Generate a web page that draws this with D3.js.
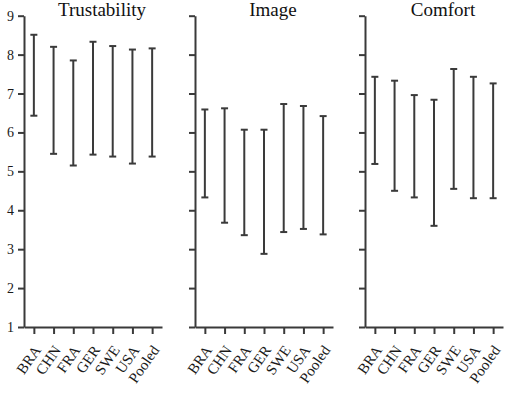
<!DOCTYPE html>
<html>
<head>
<meta charset="utf-8">
<script src="https://cdn.jsdelivr.net/npm/d3@7"></script>
<style>
    body { margin: 0; background: #fff; }
    .axis path, .axis line { stroke: #3a3a3a; stroke-width: 2px; }
    .axis text { font-family: "Liberation Serif", "Times New Roman", serif; font-size: 14px; fill: #1a1a1a; }
    .x-axis text { font-size: 15px; }
    .panel-title { font-family: "Liberation Serif", "Times New Roman", serif; font-size: 19px; fill: #111; }
</style>
</head>
<body>
<div id="chart"></div>
<script>
    // countries along the x axis
    let countries = ["BRA", "CHN", "FRA", "GER", "SWE", "USA", "Pooled"];
    let panels = ["Trustability", "Image", "Comfort"];
    let yTicks = [1, 2, 3, 4, 5, 6, 7, 8, 9];

    // upper and lower ends of each interval, one array per panel
    let trustLow = [6.43, 5.45, 5.15, 5.43, 5.38, 5.20, 5.38];
    let trustHigh = [8.51, 8.20, 7.85, 8.33, 8.22, 8.13, 8.16];
    let imageLow = [4.33, 3.68, 3.36, 2.88, 3.44, 3.52, 3.38];
    let imageHigh = [6.59, 6.62, 6.07, 6.07, 6.73, 6.68, 6.42];
    let comfortLow = [5.19, 4.50, 4.33, 3.60, 4.55, 4.31, 4.31];
    let comfortHigh = [7.43, 7.33, 6.96, 6.84, 7.63, 7.43, 7.26];

    let lows = [trustLow, imageLow, comfortLow];
    let highs = [trustHigh, imageHigh, comfortHigh];

    let width = 505, height = 393;
    let panelLeft = [24, 195, 365];
    let panelWidth = 138;
    let plotTop = 15.7, plotBottom = 327;
    let capHalf = 3.5;
    let lineColor = "#3a3a3a";

    let svg = d3.select("#chart").append("svg")
        .attr("width", width)
        .attr("height", height);

    let y = d3.scaleLinear()
        .domain([1, 9])
        .range([plotBottom, plotTop]);

    let x = d3.scalePoint()
        .domain(countries)
        .range([0, panelWidth])
        .padding(0.5);

    panels.forEach((name, p) => {
        let g = svg.append("g")
            .attr("transform", "translate(" + panelLeft[p] + ",0)");

        // y axis, labels only on the first panel
        let yAxis = d3.axisLeft(y)
            .tickValues(yTicks)
            .tickSize(6)
            .tickSizeOuter(0)
            .tickPadding(4)
            .tickFormat(p === 0 ? d3.format("d") : "");
        g.append("g")
            .attr("class", "y-axis axis")
            .call(yAxis);

        // x axis
        let xAxis = d3.axisBottom(x)
            .tickSize(7)
            .tickSizeOuter(0);
        let xg = g.append("g")
            .attr("class", "x-axis axis")
            .attr("transform", "translate(0," + plotBottom + ")")
            .call(xAxis);

        // slanted country labels
        xg.selectAll(".tick text")
            .attr("text-anchor", "end")
            .attr("x", 0)
            .attr("y", 0)
            .attr("dy", "0.35em")
            .attr("transform", "translate(3,20) rotate(-55)");

        // title
        g.append("text")
            .attr("class", "panel-title")
            .attr("x", x(countries[3]) + 9)
            .attr("y", 16)
            .attr("text-anchor", "middle")
            .text(name);

        // interval bars
        let rows = countries.map((c, i) => ({country: c, low: lows[p][i], high: highs[p][i]}));

        let bars = g.append("g").attr("class", "bars")
            .selectAll("g")
            .data(rows)
            .enter()
            .append("g");

        bars.append("line")
            .attr("x1", d => x(d.country))
            .attr("x2", d => x(d.country))
            .attr("y1", d => y(d.low))
            .attr("y2", d => y(d.high))
            .attr("stroke", lineColor)
            .attr("stroke-width", 2);

        // caps at both ends
        bars.append("line")
            .attr("x1", d => x(d.country) - capHalf)
            .attr("x2", d => x(d.country) + capHalf)
            .attr("y1", d => y(d.high))
            .attr("y2", d => y(d.high))
            .attr("stroke", lineColor)
            .attr("stroke-width", 2);

        bars.append("line")
            .attr("x1", d => x(d.country) - capHalf)
            .attr("x2", d => x(d.country) + capHalf)
            .attr("y1", d => y(d.low))
            .attr("y2", d => y(d.low))
            .attr("stroke", lineColor)
            .attr("stroke-width", 2);
    });
</script>
</body>
</html>
